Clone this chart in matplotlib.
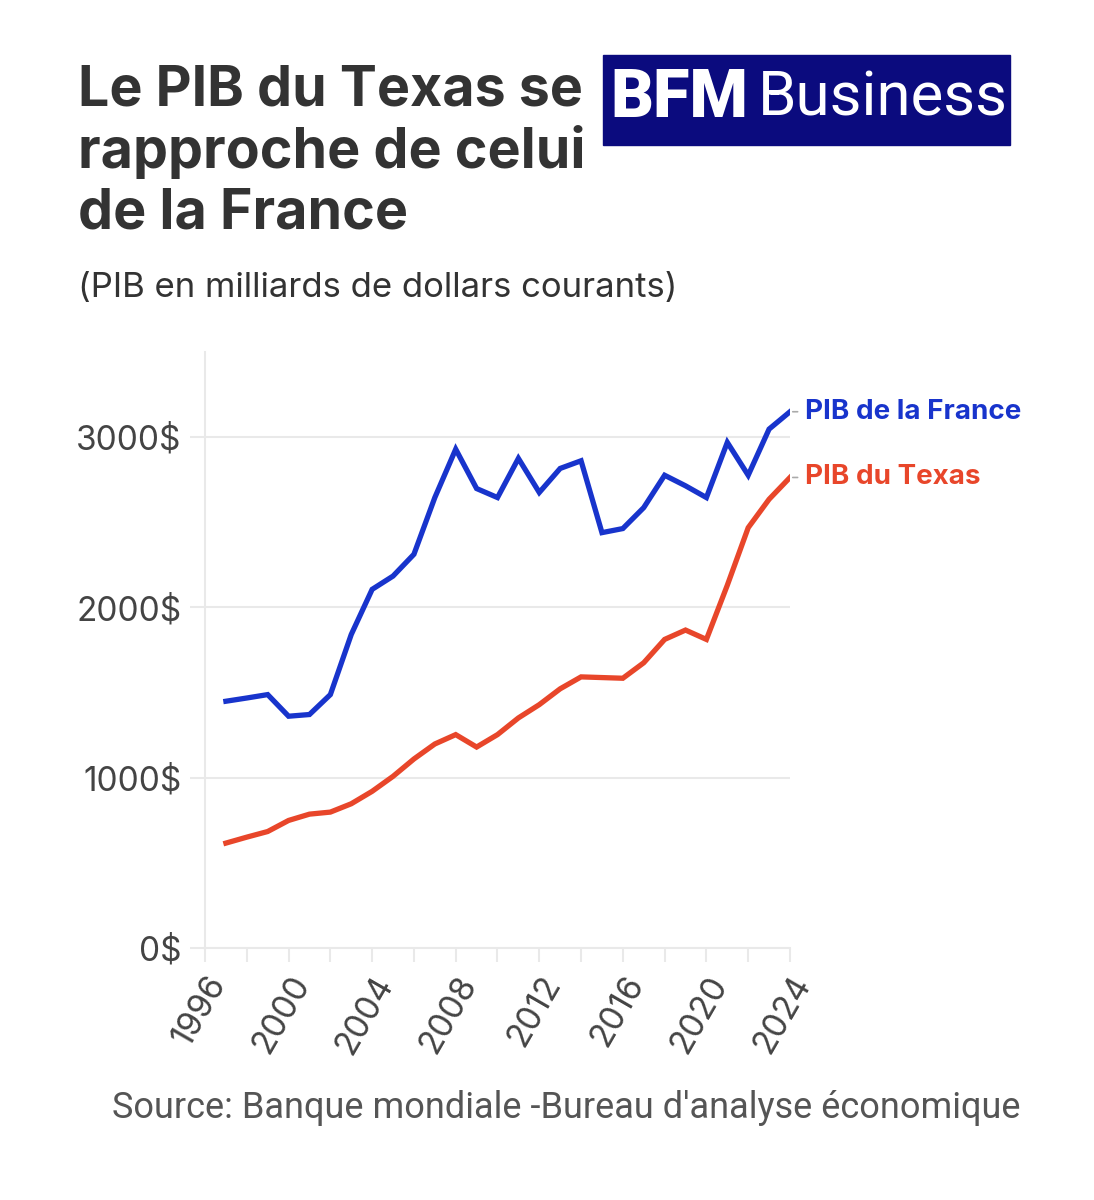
import matplotlib
matplotlib.use("Agg")
import matplotlib.pyplot as plt
from matplotlib.patches import Rectangle

years = list(range(1997, 2025))
france = [1449, 1468, 1488, 1361, 1371, 1488, 1841, 2106, 2184, 2312,
          2645, 2929, 2698, 2645, 2875, 2675, 2816, 2861, 2439, 2463,
          2586, 2776, 2714, 2645, 2969, 2776, 3047, 3149]
texas = [616, 651, 684, 749, 786, 798, 847, 920, 1008, 1110,
         1198, 1253, 1180, 1253, 1351, 1429, 1522, 1592, 1588, 1584,
         1675, 1812, 1867, 1812, 2130, 2468, 2635, 2763]
y_ticks = [0, 1000, 2000, 3000]
x_labels = [1996, 2000, 2004, 2008, 2012, 2016, 2020, 2024]

BLUE = "#1834cc"
RED = "#e8462a"
GRID = "#e9e9e9"

plt.rcParams["font.family"] = ["Inter", "DejaVu Sans"]

fig = plt.figure(figsize=(10.94, 12), dpi=100)
ax = fig.add_axes([0.1874, 0.21, 0.5347, 0.4967])

ax.plot(years, france, color=BLUE, lw=3.8, solid_joinstyle="miter")
ax.plot(years, texas, color=RED, lw=3.8, solid_joinstyle="miter")

ax.set_xlim(1996, 2024)
ax.set_ylim(0, 3500)
ax.set_yticks(y_ticks)
ax.set_yticklabels([f"{v}$" for v in y_ticks])
ax.set_xticks(range(1996, 2025, 2))
ax.set_xticklabels([str(y) if y in x_labels else "" for y in range(1996, 2025, 2)],
                   rotation=60, ha="right", rotation_mode="anchor")
ax.tick_params(axis="y", length=11, width=1.5, color=GRID, labelsize=24,
               labelcolor="#444444", pad=6)
ax.tick_params(axis="x", length=10, width=1.5, color=GRID, labelsize=24,
               labelcolor="#444444", pad=6)
for s in ["top", "right"]:
    ax.spines[s].set_visible(False)
for s in ["left", "bottom"]:
    ax.spines[s].set_color(GRID)
    ax.spines[s].set_linewidth(1.5)
ax.grid(axis="y", color=GRID, lw=1.5)
ax.set_axisbelow(True)

# end labels
for vals, name, col in [(france, "PIB de la France", BLUE),
                        (texas, "PIB du Texas", RED)]:
    ax.annotate(name, xy=(years[-1], vals[-1]), xytext=(11, 0),
                textcoords="offset points", va="center", ha="left",
                fontsize=20, fontweight="bold", color=col,
                annotation_clip=False)
    ax.annotate("", xy=(years[-1], vals[-1]), xytext=(years[-1] + 0.5, vals[-1]),
                arrowprops=dict(arrowstyle="-", color="#aaaaaa", lw=1.2),
                annotation_clip=False)

fig.text(0.071, 0.946, "Le PIB du Texas se\nrapproche de celui\nde la France",
         fontsize=40, fontweight="bold", color="#333333", va="top", ha="left",
         linespacing=1.2)
fig.text(0.071, 0.76, "(PIB en milliards de dollars courants)",
         fontsize=25, color="#333333", va="center", ha="left")

# logo
fig.patches.append(Rectangle((603 / 1094, 1 - 145 / 1200), 407 / 1094, 90 / 1200,
                             transform=fig.transFigure, color="#0b0b7e"))
fig.text(610 / 1094, 1 - 99 / 1200, "BFM", fontsize=48, fontweight="black",
         color="white", va="center", ha="left", family=["Roboto", "DejaVu Sans"])
fig.text(758 / 1094, 1 - 99 / 1200, "Business", fontsize=44.5,
         color="white", va="center", ha="left", family=["Roboto", "DejaVu Sans"])

fig.text(0.518, 0.077, "Source: Banque mondiale -Bureau d'analyse économique",
         fontsize=26, color="#555555", va="center", ha="center",
         family=["Roboto", "DejaVu Sans"])

fig.savefig("out.png", dpi=100, facecolor="white")
